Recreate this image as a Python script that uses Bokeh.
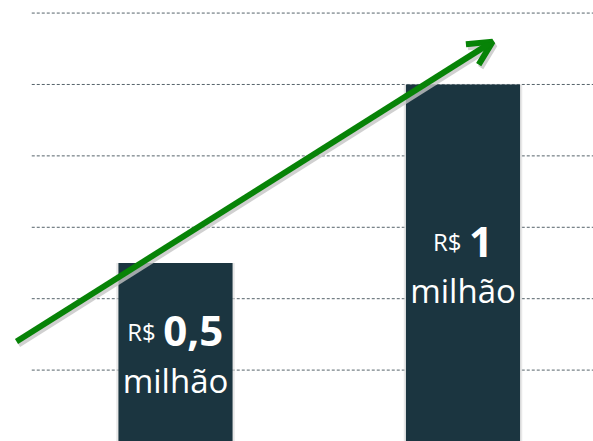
from bokeh.plotting import figure
from bokeh.models import Range1d, Arrow, OpenHead, ColumnDataSource
from bokeh.core.properties import value
from bokeh.embed import file_html
from bokeh.resources import INLINE

# ---- data ----
positions = [1, 2]
amounts = [2.5, 5.0]
currency = ["R$", "R$"]
numbers = ["0,5", "1"]
units = ["milhão", "milhão"]
grid_values = [1, 2, 3, 4, 5, 6]
arrow_start = (0.447, 1.40)
arrow_end = (2.103, 5.60)

BAR = "#1b3540"
GREEN = "#078307"
FONT = "Open Sans"

p = figure(width=593, height=441, output_backend="svg", toolbar_location=None,
           x_range=Range1d(0.3913, 2.4539), y_range=Range1d(0, 6.176),
           min_border=0, min_border_left=0, min_border_right=0,
           min_border_top=0, min_border_bottom=0)
p.axis.visible = False
p.grid.visible = False
p.outline_line_color = None
p.background_fill_color = "white"

# dotted gridlines
p.segment(x0=[0.5] * len(grid_values), x1=[2.6] * len(grid_values),
          y0=grid_values, y1=grid_values,
          line_color="#56636a", line_width=1, line_dash="3 2")

# bar shadows (subtle) and bars
p.vbar(x=positions, top=amounts, bottom=0, width=0.412,
       fill_color="#d9d9d9", line_color=None, fill_alpha=0.6)
p.vbar(x=positions, top=amounts, bottom=0, width=0.397,
       fill_color=BAR, line_color=None)

# labels
num_size = 42
cur_size = 24
gap = 7
def num_width(s):
    w = 0.0
    for ch in s:
        w += 0.30 if ch in ",." else 0.572
    return w * num_size
cur_w = 1.21 * cur_size
cur_off, num_off = [], []
for n in numbers:
    total = cur_w + gap + num_width(n)
    cur_off.append(-total / 2)
    num_off.append(-total / 2 + cur_w + gap)

mid = [a / 2 for a in amounts]
src = ColumnDataSource(dict(x=positions, y=mid, cur=currency, num=numbers,
                            unit=units, cur_off=cur_off, num_off=num_off))
p.text(x="x", y="y", text="cur", source=src, x_offset="cur_off", y_offset=-21,
       text_font=value(FONT), text_font_size=f"{cur_size}px",
       text_color="white", text_align="left", text_baseline="alphabetic")
p.text(x="x", y="y", text="num", source=src, x_offset="num_off", y_offset=-21,
       text_font=value(FONT), text_font_size=f"{num_size}px", text_font_style="bold",
       text_color="white", text_align="left", text_baseline="alphabetic")
p.text(x="x", y="y", text="unit", source=src, y_offset=28,
       text_font=value(FONT), text_font_size="33px",
       text_color="white", text_align="center", text_baseline="alphabetic")

# arrow shadow
dx, dy = 2 / 287.5, 3 / 71.4
p.add_layout(Arrow(x_start=arrow_start[0] + dx, y_start=arrow_start[1] - dy,
                   x_end=arrow_end[0] + dx, y_end=arrow_end[1] - dy,
                   line_color="#c4c4c4", line_width=6, line_alpha=0.8,
                   end=OpenHead(size=24, line_width=6, line_color="#c4c4c4", line_alpha=0.8)))
# arrow
p.add_layout(Arrow(x_start=arrow_start[0], y_start=arrow_start[1],
                   x_end=arrow_end[0], y_end=arrow_end[1],
                   line_color=GREEN, line_width=6,
                   end=OpenHead(size=24, line_width=6, line_color=GREEN)))

open("out.html", "w").write(file_html(p, INLINE))
